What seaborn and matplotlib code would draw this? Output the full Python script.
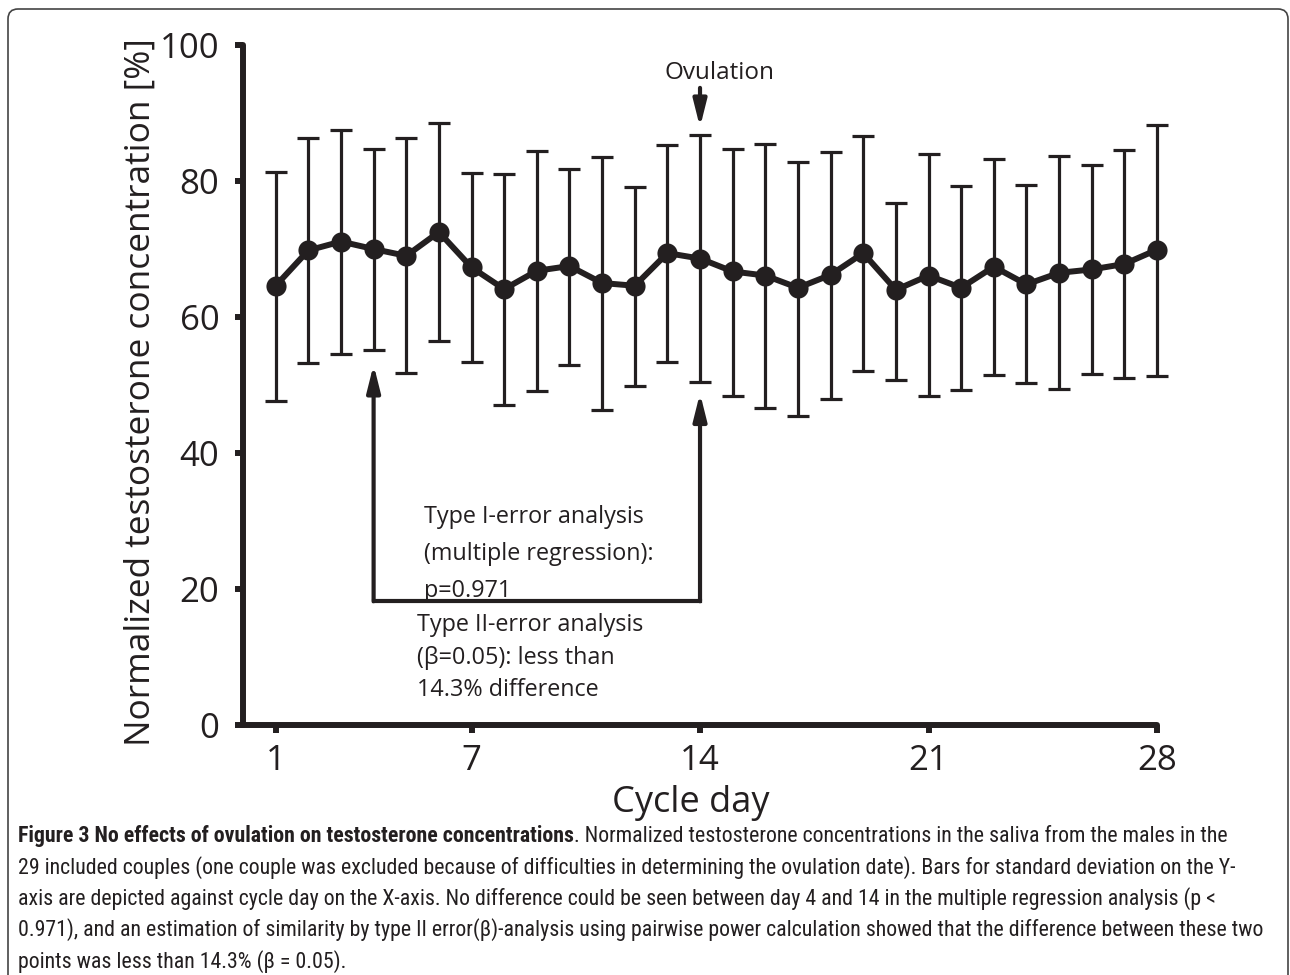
import numpy as np
import matplotlib
matplotlib.use('Agg')
import matplotlib.pyplot as plt
from matplotlib import font_manager
from matplotlib.patches import FancyBboxPatch
from matplotlib.transforms import IdentityTransform
import seaborn as sns

# Cycle day, mean and SD bounds
days = [1, 2, 3, 4, 5, 6, 7, 8, 9, 10, 11, 12, 13, 14,
        15, 16, 17, 18, 19, 20, 21, 22, 23, 24, 25, 26, 27, 28]
mean_conc = [64.6, 69.8, 71.1, 70.0, 69.0, 72.5, 67.3, 64.1, 66.8, 67.5, 65.0, 64.6, 69.4, 68.6,
             66.7, 66.1, 64.3, 66.2, 69.4, 64.0, 66.1, 64.3, 67.4, 64.8, 66.5, 67.0, 67.8, 69.9]
sd_upper = [81.4, 86.3, 87.5, 84.7, 86.3, 88.6, 81.2, 81.0, 84.4, 81.7, 83.5, 79.1, 85.3, 86.7,
            84.7, 85.5, 82.8, 84.3, 86.6, 76.7, 84.0, 79.3, 83.3, 79.4, 83.7, 82.4, 84.6, 88.3]
sd_lower = [47.7, 53.2, 54.5, 55.1, 51.7, 56.5, 53.4, 47.0, 49.1, 53.0, 46.3, 49.9, 53.4, 50.4,
            48.4, 46.6, 45.5, 47.9, 52.0, 50.8, 48.4, 49.3, 51.5, 50.3, 49.4, 51.6, 51.1, 51.3]
x_ticks = [1, 7, 14, 21, 28]
y_ticks = [0, 20, 40, 60, 80, 100]

caption_bold = "Figure 3 No effects of ovulation on testosterone concentrations"
caption_lines = [
    ". Normalized testosterone concentrations in the saliva from the males in the",
    "29 included couples (one couple was excluded because of difficulties in determining the ovulation date). Bars for standard deviation on the Y-",
    "axis are depicted against cycle day on the X-axis. No difference could be seen between day 4 and 14 in the multiple regression analysis (p <",
    "0.971), and an estimation of similarity by type II error(\u03b2)-analysis using pairwise power calculation showed that the difference between these two",
    "points was less than 14.3% (\u03b2 = 0.05).",
]

INK = '#231f20'


def pick_font(names):
    have = {f.name for f in font_manager.fontManager.ttflist}
    for n in names:
        if n in have:
            return n
    return 'DejaVu Sans'


sns.set_style('ticks')
main_font = pick_font(['Open Sans', 'Noto Sans', 'DejaVu Sans'])
cap_font = pick_font(['Liberation Sans Narrow', 'Roboto Condensed', 'Open Sans Condensed', 'Roboto'])
plt.rcParams['font.family'] = [main_font, 'DejaVu Sans']

fig = plt.figure(figsize=(12.9, 9.75), dpi=100)
ax = fig.add_axes([0.1884, 0.2564, 0.7085, 0.6974])

# error bars first, so the markers sit on top
mean_arr = np.array(mean_conc)
yerr = [mean_arr - np.array(sd_lower), np.array(sd_upper) - mean_arr]
eb = ax.errorbar(days, mean_conc, yerr=yerr, fmt='none', ecolor=INK,
                 elinewidth=2.3, capsize=8, capthick=2.3, zorder=2)
for part in eb.get_children():
    part.set_clip_on(False)
sns.lineplot(x=days, y=mean_conc, ax=ax, color=INK, lw=4.3, marker='o',
             markersize=14.5, markeredgewidth=0, zorder=3, clip_on=False)

ax.set_xlim(0, 28)
ax.set_ylim(0, 100)
ax.set_xticks(x_ticks)
ax.set_yticks(y_ticks)
ax.tick_params(axis='both', colors=INK, width=4.3, length=6, labelsize=25)
ax.tick_params(axis='y', pad=11)
ax.tick_params(axis='x', pad=8)
for s in ['top', 'right']:
    ax.spines[s].set_visible(False)
for s in ['left', 'bottom']:
    ax.spines[s].set_linewidth(4.3)
    ax.spines[s].set_color(INK)
    ax.spines[s].set_capstyle('round')

ax.set_xlabel('Cycle day', fontsize=26, color=INK, va='center')
ax.xaxis.set_label_coords(0.49, -0.115)
ax.set_ylabel('Normalized testosterone concentration [%]', fontsize=25.4, color=INK, va='center')
ax.yaxis.set_label_coords(-0.112, 0.49)

# annotations
arrow_kw = dict(arrowstyle='-|>,head_length=1.6,head_width=0.4', color=INK,
                lw=3, shrinkA=0, shrinkB=0, mutation_scale=10)
ax.annotate('', xy=(4, 53.0), xytext=(4, 18.2), arrowprops=arrow_kw)
ax.annotate('', xy=(14, 48.8), xytext=(14, 18.2), arrowprops=arrow_kw)
ax.plot([4, 14], [18.2, 18.2], color=INK, lw=3, solid_capstyle='projecting')
ax.annotate('', xy=(14, 87.9), xytext=(14, 93.7), arrowprops=arrow_kw)
ax.text(14.6, 95.9, 'Ovulation', ha='center', va='center', fontsize=17.5, color=INK)
ax.text(5.55, 25.2, 'Type I-error analysis\n(multiple regression):\np=0.971',
        ha='left', va='center', fontsize=16.8, color=INK, linespacing=1.72)
ax.text(5.34, 9.9, 'Type II-error analysis\n(\u03b2=0.05): less than\n14.3% difference',
        ha='left', va='center', fontsize=16.8, color=INK, linespacing=1.47)

# rounded frame around the figure
frame = FancyBboxPatch((8, -40), 1280, 1006, boxstyle='round,pad=0,rounding_size=10',
                       transform=IdentityTransform(), fill=False, ec='#444444', lw=1.2)
fig.add_artist(frame)

# caption, sized so that the longest line spans the frame width
renderer = fig.canvas.get_renderer()
widths = []
for txt in caption_lines[1:]:
    probe = fig.text(0, 0, txt, family=[cap_font, 'DejaVu Sans'], fontsize=14)
    widths.append(probe.get_window_extent(renderer).width)
    probe.remove()
cap_fs = 14 * 1256 / max(widths)

x0 = 18 / 1290
line_y = [836, 868, 899, 930, 962]
bold = fig.text(x0, 1 - line_y[0] / 975, caption_bold, family=[cap_font, 'DejaVu Sans'],
                fontsize=cap_fs, weight='bold', va='center', color=INK)
bx = bold.get_window_extent(renderer).x1 / 1290
fig.text(bx, 1 - line_y[0] / 975, caption_lines[0], family=[cap_font, 'DejaVu Sans'],
         fontsize=cap_fs, va='center', color=INK)
for txt, yy in zip(caption_lines[1:], line_y[1:]):
    fig.text(x0, 1 - yy / 975, txt, family=[cap_font, 'DejaVu Sans'],
             fontsize=cap_fs, va='center', color=INK)

fig.savefig('out.png', dpi=100)
plt.close(fig)
